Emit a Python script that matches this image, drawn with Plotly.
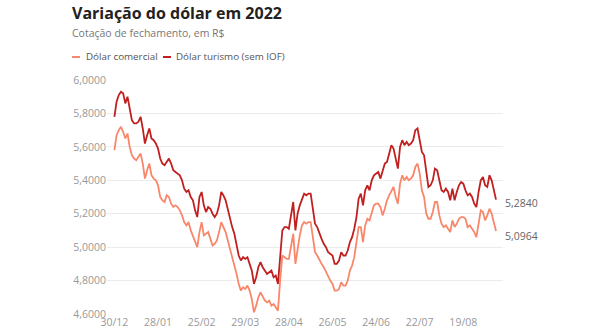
import plotly.graph_objects as go

# Daily closing quotes (R$), trading days from 30/12/2021
dolar_comercial = [
    5.58, 5.67, 5.70, 5.72, 5.69, 5.65, 5.68, 5.60, 5.55, 5.53,
    5.52, 5.54, 5.56, 5.50, 5.41, 5.46, 5.50, 5.43, 5.41, 5.40,
    5.37, 5.30, 5.28, 5.27, 5.31, 5.30, 5.26, 5.24, 5.25, 5.24,
    5.22, 5.19, 5.15, 5.13, 5.15, 5.10, 5.07, 5.03, 5.00, 5.09,
    5.15, 5.07, 5.08, 5.09, 5.05, 5.01, 5.02, 5.04, 5.09, 5.15,
    5.12, 5.09, 5.04, 4.99, 4.94, 4.90, 4.84, 4.78, 4.74, 4.76,
    4.75, 4.77, 4.74, 4.69, 4.61, 4.65, 4.70, 4.73, 4.70, 4.68,
    4.67, 4.68, 4.65, 4.66, 4.64, 4.62, 4.80, 4.95, 4.94, 4.93,
    4.93, 5.02, 5.08, 4.90, 5.00, 5.07, 5.13, 5.15, 5.14, 5.15,
    5.15, 5.06, 4.97, 4.95, 4.92, 4.90, 4.88, 4.85, 4.83, 4.80,
    4.78, 4.74, 4.74, 4.75, 4.79, 4.77, 4.77, 4.80, 4.86, 4.89,
    4.94, 5.02, 5.12, 5.12, 5.03, 5.13, 5.17, 5.16, 5.21, 5.25,
    5.26, 5.26, 5.24, 5.19, 5.23, 5.28, 5.31, 5.34, 5.36, 5.30,
    5.26, 5.38, 5.43, 5.40, 5.42, 5.40, 5.41, 5.43, 5.48, 5.50,
    5.44, 5.34, 5.30, 5.20, 5.17, 5.17, 5.21, 5.27, 5.27, 5.19,
    5.14, 5.12, 5.13, 5.11, 5.09, 5.16, 5.12, 5.14, 5.17, 5.18,
    5.18, 5.17, 5.12, 5.13, 5.11, 5.09, 5.06, 5.14, 5.22, 5.21,
    5.16, 5.19, 5.23, 5.20, 5.14, 5.0964,
]

dolar_turismo = [
    5.78, 5.87, 5.91, 5.93, 5.92, 5.86, 5.90, 5.83, 5.76, 5.74,
    5.74, 5.75, 5.78, 5.71, 5.62, 5.67, 5.71, 5.65, 5.64, 5.62,
    5.59, 5.53, 5.50, 5.49, 5.51, 5.53, 5.50, 5.46, 5.45, 5.44,
    5.43, 5.40, 5.35, 5.33, 5.34, 5.30, 5.28, 5.22, 5.18, 5.30,
    5.33, 5.25, 5.21, 5.24, 5.23, 5.20, 5.18, 5.20, 5.25, 5.33,
    5.31, 5.28, 5.22, 5.17, 5.12, 5.08, 5.01, 4.95, 4.92, 4.94,
    4.93, 4.94, 4.90, 4.86, 4.78, 4.82, 4.88, 4.91, 4.88, 4.86,
    4.84, 4.85, 4.86, 4.82, 4.83, 4.78, 4.97, 5.10, 5.12, 5.12,
    5.11, 5.20, 5.27, 5.10, 5.20, 5.25, 5.28, 5.32, 5.31, 5.32,
    5.32, 5.24, 5.14, 5.12, 5.08, 5.05, 5.02, 5.00, 4.97, 4.96,
    4.95, 4.90, 4.90, 4.92, 4.97, 4.95, 4.95, 4.98, 5.03, 5.06,
    5.11, 5.18, 5.29, 5.32, 5.25, 5.34, 5.37, 5.34, 5.40, 5.43,
    5.44, 5.45, 5.41, 5.46, 5.50, 5.51, 5.56, 5.61, 5.59, 5.52,
    5.47, 5.60, 5.64, 5.61, 5.63, 5.61, 5.62, 5.64, 5.70, 5.71,
    5.64, 5.57, 5.55, 5.45, 5.36, 5.37, 5.40, 5.47, 5.46, 5.40,
    5.34, 5.33, 5.35, 5.33, 5.28, 5.35, 5.28, 5.33, 5.37, 5.39,
    5.38, 5.34, 5.31, 5.32, 5.30, 5.26, 5.24, 5.33, 5.40, 5.42,
    5.37, 5.36, 5.43, 5.40, 5.34, 5.284,
]

tick_positions = [0, 20, 40, 60, 80, 100, 120, 140, 160]
tick_labels = ["30/12", "28/01", "25/02", "29/03", "28/04", "26/05", "24/06", "22/07", "19/08"]

series_names = ["Dólar comercial", "Dólar turismo (sem IOF)"]
last_labels = ["5,0964", "5,2840"]

C_COM = "#f8876b"
C_TUR = "#c0201f"
FONT = "Open Sans"

x = list(range(len(dolar_comercial)))

fig = go.Figure()
fig.add_trace(go.Scatter(x=x, y=dolar_comercial, mode="lines", name=series_names[0],
                         line=dict(color=C_COM, width=1.8), hoverinfo="skip"))
fig.add_trace(go.Scatter(x=x, y=dolar_turismo, mode="lines", name=series_names[1],
                         line=dict(color=C_TUR, width=1.8), hoverinfo="skip"))

L, R, T, B = 107, 87, 80, 16
W, H = 590, 330
pw, ph = W - L - R, H - T - B

def px(xp):
    return (xp - L) / pw

def py(yp):
    return (H - B - yp) / ph

annotations = [
    dict(text="<b>Variação do dólar em 2022</b>", x=px(70), y=py(13), xref="paper", yref="paper",
         xanchor="left", yanchor="middle", showarrow=False,
         font=dict(family=FONT, size=16, color="#222222")),
    dict(text="Cotação de fechamento, em R$", x=px(70), y=py(33), xref="paper", yref="paper",
         xanchor="left", yanchor="middle", showarrow=False,
         font=dict(family=FONT, size=10.5, color="#777777")),
    dict(text=series_names[0], x=px(84), y=py(57), xref="paper", yref="paper",
         xanchor="left", yanchor="middle", showarrow=False,
         font=dict(family=FONT, size=9.8, color="#555555")),
    dict(text=series_names[1], x=px(174), y=py(57), xref="paper", yref="paper",
         xanchor="left", yanchor="middle", showarrow=False,
         font=dict(family=FONT, size=9.8, color="#555555")),
    dict(text=last_labels[1], x=1, y=dolar_turismo[-1], xref="paper", yref="y",
         xanchor="left", yanchor="middle", yshift=-3, showarrow=False,
         font=dict(family=FONT, size=10.5, color="#666666")),
    dict(text=last_labels[0], x=1, y=dolar_comercial[-1], xref="paper", yref="y",
         xanchor="left", yanchor="middle", yshift=-5, showarrow=False,
         font=dict(family=FONT, size=10.5, color="#666666")),
]

shapes = [
    dict(type="line", xref="paper", yref="paper", x0=px(72), x1=px(80), y0=py(57), y1=py(57),
         line=dict(color=C_COM, width=2)),
    dict(type="line", xref="paper", yref="paper", x0=px(163), x1=px(171), y0=py(57), y1=py(57),
         line=dict(color=C_TUR, width=2)),
]

fig.update_layout(
    width=W, height=H,
    margin=dict(l=L, r=R, t=T, b=B, pad=0, autoexpand=False),
    paper_bgcolor="white", plot_bgcolor="white",
    showlegend=False,
    separators=",.",
    font=dict(family=FONT, color="#999999"),
    annotations=annotations,
    shapes=shapes,
    xaxis=dict(range=[-3.4, 178.2], tickmode="array", tickvals=tick_positions, ticktext=tick_labels,
               showgrid=False, zeroline=False, showline=False, ticks="", automargin=False,
               tickfont=dict(family=FONT, size=10.5, color="#999999")),
    yaxis=dict(range=[4.6, 6.0], dtick=0.2, tick0=4.6, tickformat=".4f", automargin=False,
               showgrid=True, gridcolor="#ebebeb", gridwidth=1, zeroline=False, showline=False,
               ticks="", tickfont=dict(family=FONT, size=10.5, color="#999999")),
)

fig.write_html("out.html")
